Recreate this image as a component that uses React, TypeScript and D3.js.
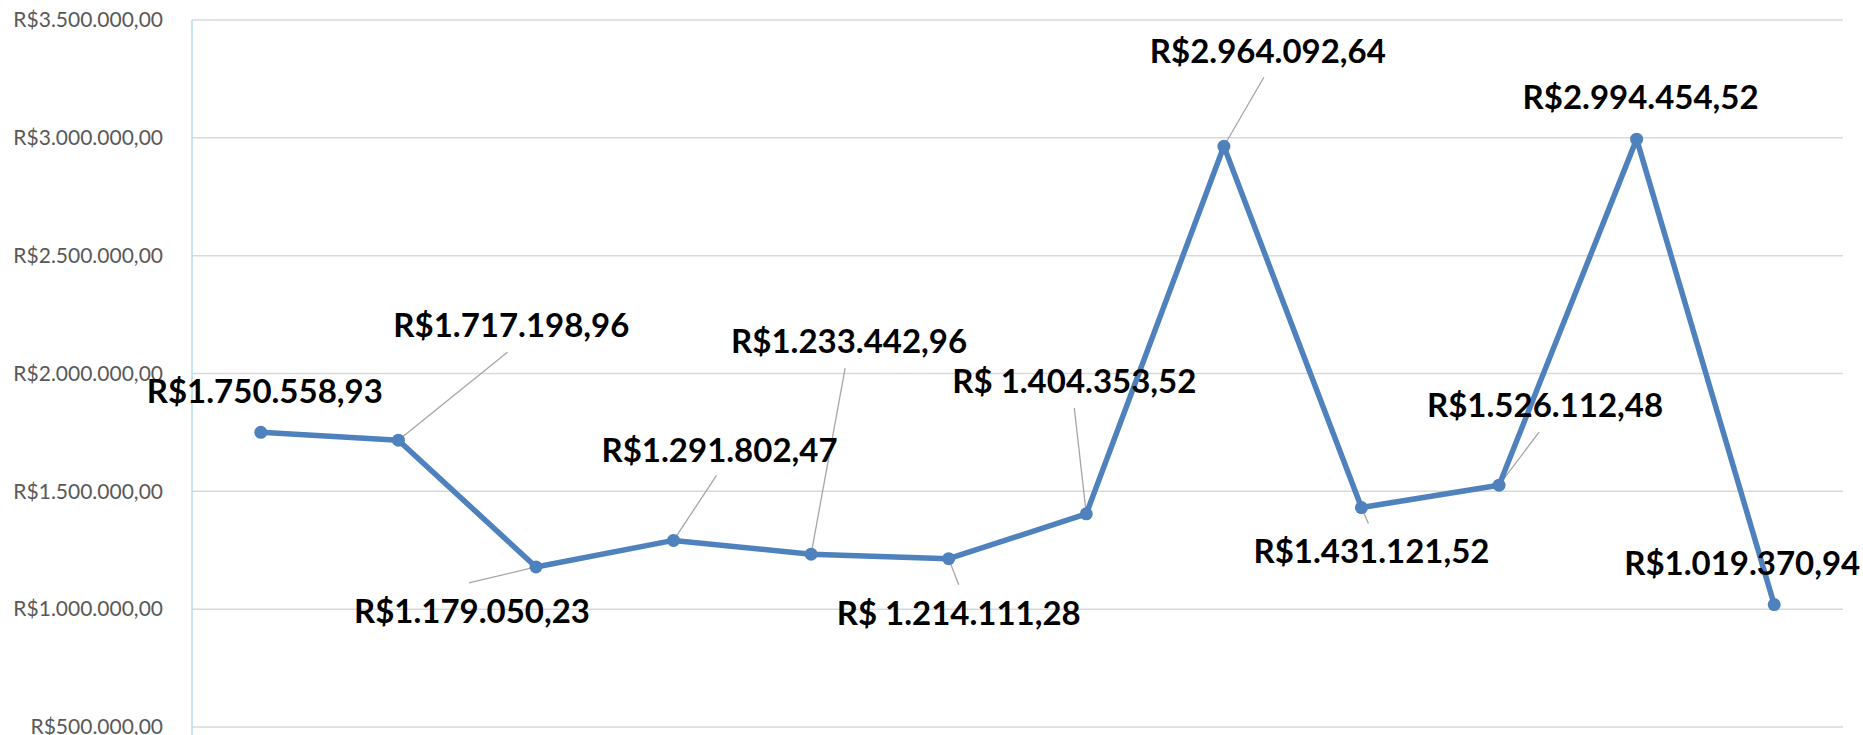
import { useRef, useEffect } from "react";
import * as d3 from "d3";

const months = ["Jan", "Fev", "Mar", "Abr", "Mai", "Jun", "Jul", "Ago", "Set", "Out", "Nov", "Dez"];
const values = [
  1750558.93, 1717198.96, 1179050.23, 1291802.47, 1233442.96, 1214111.28,
  1404353.52, 2964092.64, 1431121.52, 1526112.48, 2994454.52, 1019370.94,
];
const valueLabels = [
  "R$1.750.558,93", "R$1.717.198,96", "R$1.179.050,23", "R$1.291.802,47",
  "R$1.233.442,96", "R$ 1.214.111,28", "R$ 1.404.353,52", "R$2.964.092,64",
  "R$1.431.121,52", "R$1.526.112,48", "R$2.994.454,52", "R$1.019.370,94",
];
const yTicks = [500000, 1000000, 1500000, 2000000, 2500000, 3000000, 3500000];

// label placement relative to each point: text centre/baseline, and leader end (null = no leader)
const LABEL_POS: { dx: number; dy: number; lx: number | null; ly: number | null }[] = [
  { dx: 4, dy: -29, lx: null, ly: null },
  { dx: 113, dy: -103, lx: 109, ly: -88 },
  { dx: -64, dy: 56, lx: -67, ly: 16 },
  { dx: 46, dy: -78, lx: 43, ly: -65 },
  { dx: 38, dy: -201, lx: 34, ly: -186 },
  { dx: 10, dy: 66, lx: 10, ly: 26 },
  { dx: -12, dy: -121, lx: -12, ly: -106 },
  { dx: 44, dy: -83, lx: 40, ly: -69 },
  { dx: 10, dy: 55, lx: 7, ly: 16 },
  { dx: 46, dy: -68, lx: 40, ly: -53 },
  { dx: 4, dy: -30, lx: null, ly: null },
  { dx: -32, dy: -30, lx: null, ly: null },
];

const WIDTH = 1863;
const HEIGHT = 735;
const LEFT = 192;
const RIGHT = 1843;
const TOP = 20;
const BOTTOM = 727;

const brl = (v: number) =>
  "R$" +
  d3.format(",.2f")(v).replace(/,/g, "#").replace(".", ",").replace(/#/g, ".");

export default function App() {
  const svgRef = useRef<SVGSVGElement>(null);

  useEffect(() => {
    const svg = d3.select(svgRef.current);
    svg.selectAll("*").remove();

    const x = d3.scalePoint<string>().domain(months).range([LEFT, RIGHT]).padding(0.5);
    const y = d3.scaleLinear().domain([500000, 3500000]).range([BOTTOM, TOP]);

    // Grid lines
    svg.append("g")
      .selectAll("line")
      .data(yTicks)
      .join("line")
      .attr("x1", LEFT)
      .attr("x2", RIGHT)
      .attr("y1", (d) => y(d))
      .attr("y2", (d) => y(d))
      .attr("stroke", "#d9d9d9")
      .attr("stroke-width", 1.5);

    // Y axis labels
    const yAxis = d3.axisLeft(y).tickValues(yTicks).tickFormat((d) => brl(+d)).tickSize(0).tickPadding(29);
    svg.append("g")
      .attr("transform", `translate(${LEFT},0)`)
      .call(yAxis)
      .call((a) => a.select(".domain").remove())
      .call((a) =>
        a.selectAll("text")
          .attr("fill", "#595959")
          .attr("font-family", "Lato, 'Open Sans', sans-serif")
          .attr("font-size", "21px")
      );

    // vertical axis line
    svg.append("line")
      .attr("x1", LEFT)
      .attr("x2", LEFT)
      .attr("y1", TOP)
      .attr("y2", HEIGHT)
      .attr("stroke", "#b4dcea")
      .attr("stroke-width", 1.5);

    const pts = values.map((v, i) => ({ x: x(months[i]) ?? 0, y: y(v), i }));

    // Leader lines
    svg.append("g")
      .selectAll("line")
      .data(pts.filter((p) => LABEL_POS[p.i].lx !== null))
      .join("line")
      .attr("x1", (p) => p.x)
      .attr("y1", (p) => p.y)
      .attr("x2", (p) => p.x + (LABEL_POS[p.i].lx as number))
      .attr("y2", (p) => p.y + (LABEL_POS[p.i].ly as number))
      .attr("stroke", "#a6a6a6")
      .attr("stroke-width", 1.3);

    // Line
    const line = d3.line<{ x: number; y: number }>().x((d) => d.x).y((d) => d.y);
    svg.append("path")
      .datum(pts)
      .attr("d", line)
      .attr("fill", "none")
      .attr("stroke", "#4f81bd")
      .attr("stroke-width", 5.5)
      .attr("stroke-linejoin", "round");

    // Markers
    svg.append("g")
      .selectAll("circle")
      .data(pts)
      .join("circle")
      .attr("cx", (p) => p.x)
      .attr("cy", (p) => p.y)
      .attr("r", 6.5)
      .attr("fill", "#4f81bd");

    // Data labels
    svg.append("g")
      .selectAll("text")
      .data(pts)
      .join("text")
      .attr("x", (p) => p.x + LABEL_POS[p.i].dx)
      .attr("y", (p) => p.y + LABEL_POS[p.i].dy)
      .attr("text-anchor", "middle")
      .attr("font-family", "Lato, 'Open Sans', sans-serif")
      .attr("font-weight", "bold")
      .attr("font-size", "33px")
      .attr("fill", "#000")
      .text((p) => valueLabels[p.i]);
  }, []);

  return (
    <svg
      ref={svgRef}
      width={WIDTH}
      height={HEIGHT}
      viewBox={`0 0 ${WIDTH} ${HEIGHT}`}
      style={{ position: "absolute", left: 0, top: 0, display: "block", background: "#fff" }}
    />
  );
}
